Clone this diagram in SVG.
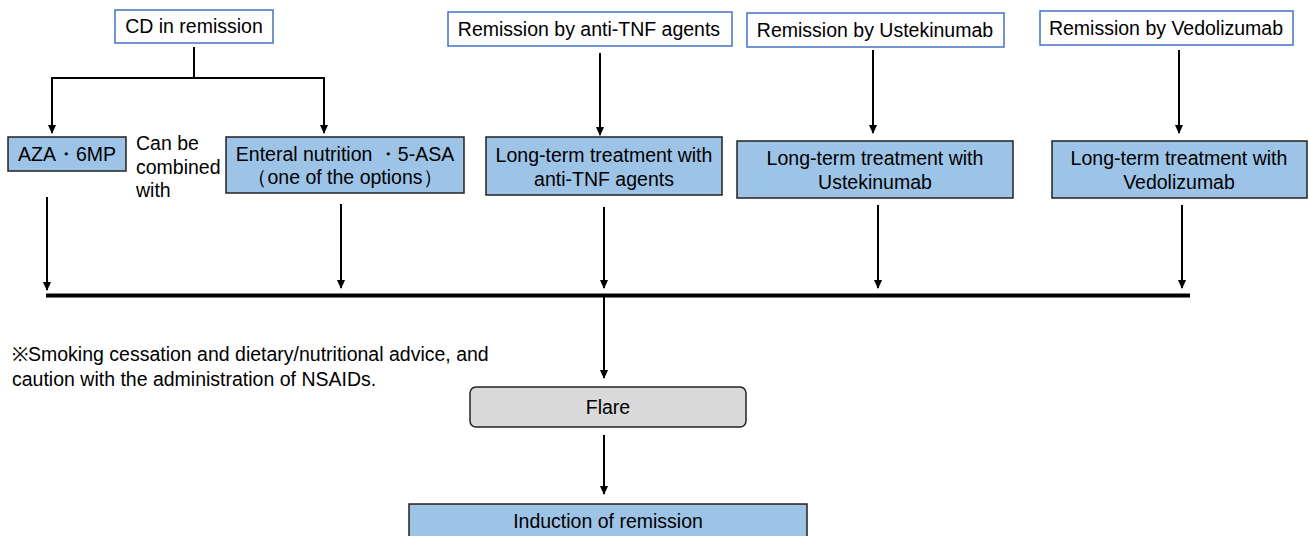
<svg xmlns="http://www.w3.org/2000/svg" width="1309" height="536" viewBox="0 0 1309 536">
<defs>
<style>
text{font-family:"Liberation Sans",Arial,sans-serif;font-size:19.5px;fill:#000}
.c{text-anchor:middle}
.top{fill:#fff;stroke:#4472c4;stroke-width:1.5}
.blue{fill:#9dc3e6;stroke:#222;stroke-width:1.5}
.gray{fill:#d9d9d9;stroke:#222;stroke-width:1.5}
.ln{stroke:#000;stroke-width:2;fill:none}
</style>
<marker id="ah" markerWidth="10" markerHeight="10" refX="8" refY="5" orient="auto" markerUnits="userSpaceOnUse">
<path d="M0,1 L9,5 L0,9 Z" fill="#000"/>
</marker>
</defs>
<rect width="1309" height="536" fill="#fff"/>
<g id="connectors">
<path class="ln" d="M194,47 V78 M52,78 H324"/>
<path class="ln" d="M52,77 V133" marker-end="url(#ah)"/>
<path class="ln" d="M324,77 V133" marker-end="url(#ah)"/>
<path class="ln" d="M600,53 V135" marker-end="url(#ah)"/>
<path class="ln" d="M873,50 V133" marker-end="url(#ah)"/>
<path class="ln" d="M1179,50 V133" marker-end="url(#ah)"/>
<path class="ln" d="M47,197 V290" marker-end="url(#ah)"/>
<path class="ln" d="M341,204 V288" marker-end="url(#ah)"/>
<path class="ln" d="M604,207 V288" marker-end="url(#ah)"/>
<path class="ln" d="M878,205 V288" marker-end="url(#ah)"/>
<path class="ln" d="M1182,205 V288" marker-end="url(#ah)"/>
<path d="M46,295.5 H1190" stroke="#000" stroke-width="4"/>
<path class="ln" d="M604,297 V378" marker-end="url(#ah)"/>
<path class="ln" d="M604,435 V494" marker-end="url(#ah)"/>
</g>
<g id="cd"><rect class="top" x="115" y="10" width="158" height="33"/><text class="c" x="194" y="33">CD in remission</text></g>
<g id="aza"><rect class="blue" x="8" y="137" width="118" height="34"/><text class="c" x="67" y="161">AZA・6MP</text></g>
<g id="canbe"><text x="136" y="150">Can be</text><text x="136" y="174">combined</text><text x="136" y="197">with</text></g>
<g id="enteral"><rect class="blue" x="226" y="137" width="238" height="56"/><text class="c" x="345" y="161">Enteral nutrition ・5-ASA</text><text class="c" x="345" y="184">（one of the options）</text></g>
<g id="rem-tnf"><rect class="top" x="448" y="12" width="284" height="34"/><text class="c" x="589" y="36">Remission by anti-TNF agents</text></g>
<g id="lt-tnf"><rect class="blue" x="486" y="137" width="236" height="58"/><text class="c" x="604" y="162">Long-term treatment with</text><text class="c" x="604" y="186">anti-TNF agents</text></g>
<g id="rem-ust"><rect class="top" x="747" y="13" width="257" height="34"/><text class="c" x="875" y="37">Remission by Ustekinumab</text></g>
<g id="lt-ust"><rect class="blue" x="737" y="141" width="276" height="57"/><text class="c" x="875" y="165">Long-term treatment with</text><text class="c" x="875" y="189">Ustekinumab</text></g>
<g id="rem-ved"><rect class="top" x="1040" y="11" width="253" height="34"/><text class="c" x="1166" y="35">Remission by Vedolizumab</text></g>
<g id="lt-ved"><rect class="blue" x="1052" y="141" width="255" height="57"/><text class="c" x="1179" y="165">Long-term treatment with</text><text class="c" x="1179" y="189">Vedolizumab</text></g>
<g id="note"><text x="12" y="361">※Smoking cessation and dietary/nutritional advice, and</text><text x="12" y="386">caution with the administration of NSAIDs.</text></g>
<g id="flare"><rect class="gray" x="470" y="387" width="276" height="40" rx="6"/><text class="c" x="608" y="414">Flare</text></g>
<g id="induction"><rect class="blue" x="409" y="504" width="398" height="40"/><text class="c" x="608" y="528">Induction of remission</text></g>
</svg>
